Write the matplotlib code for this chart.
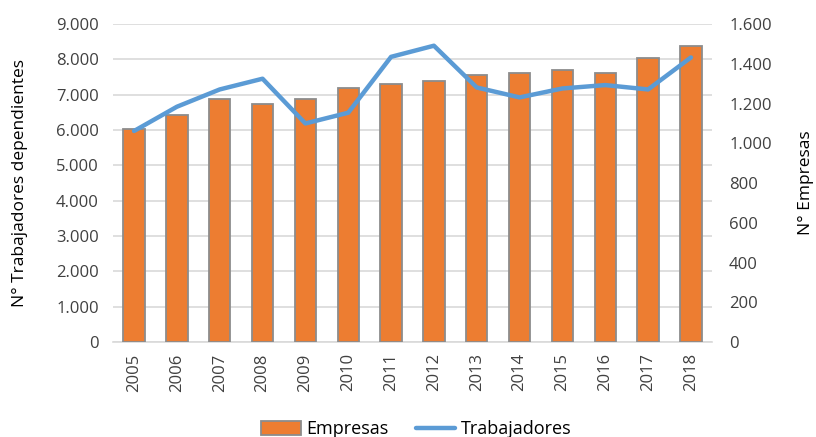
import numpy as np
import matplotlib.pyplot as plt
from matplotlib.ticker import FuncFormatter

years = ['2005', '2006', '2007', '2008', '2009', '2010', '2011',
         '2012', '2013', '2014', '2015', '2016', '2017', '2018']
empresas = [6040, 6430, 6880, 6740, 6880, 7180, 7290,
            7400, 7550, 7610, 7690, 7610, 8050, 8390]
trabajadores = [1062, 1184, 1271, 1325, 1100, 1154, 1435,
                1491, 1281, 1231, 1276, 1293, 1271, 1432]

plt.rcParams['font.family'] = ['Open Sans', 'DejaVu Sans']
plt.rcParams['font.size'] = 12

fig = plt.figure(figsize=(8.16, 4.37), dpi=100)
ax = fig.add_axes([0.138, 0.217, 0.735, 0.728])
x = np.arange(len(years))

ax.bar(x, empresas, width=0.5, color='#ED7D31', edgecolor='#8c8c8c',
       linewidth=1.3, zorder=3, label='Empresas')
ax.set_ylim(0, 9000)
ax.set_yticks(np.arange(0, 9001, 1000))
ax.yaxis.set_major_formatter(FuncFormatter(lambda v, p: f'{int(v):,}'.replace(',', '.')))
ax.set_xlim(-0.5, len(years) - 0.5)
ax.set_xticks(x)
ax.set_xticklabels(years, rotation=90)
ax.grid(axis='y', color='#d9d9d9', linewidth=1.2, zorder=0)
ax.set_ylabel('N° Trabajadores dependientes', labelpad=20, fontsize=12.5)

ax2 = ax.twinx()
ax2.plot(x, trabajadores, color='#5B9BD5', linewidth=3.2, zorder=4,
         solid_capstyle='round', label='Trabajadores')
ax2.set_ylim(0, 1600)
ax2.set_yticks(np.arange(0, 1601, 200))
ax2.yaxis.set_major_formatter(FuncFormatter(lambda v, p: f'{int(v):,}'.replace(',', '.')))
ax2.set_ylabel('N° Empresas', labelpad=19, fontsize=12.5)

for a in (ax, ax2):
    for s in ('top', 'left', 'right'):
        a.spines[s].set_visible(False)
    a.tick_params(length=0, colors='#404040', labelcolor='#404040')
ax.spines['bottom'].set_color('#d9d9d9')
ax.spines['bottom'].set_linewidth(1.2)
ax2.spines['bottom'].set_visible(False)
ax.tick_params(axis='y', pad=10)
ax2.tick_params(axis='y', pad=12)
ax.tick_params(axis='x', pad=8)

h1, l1 = ax.get_legend_handles_labels()
h2, l2 = ax2.get_legend_handles_labels()
fig.legend(h1 + h2, l1 + l2, loc='lower center', bbox_to_anchor=(0.51, -0.04),
           ncol=2, frameon=False, handlelength=2.2, handleheight=0.8,
           columnspacing=1.5, handletextpad=0.3, fontsize=13)

fig.savefig('out.png', dpi=100)
